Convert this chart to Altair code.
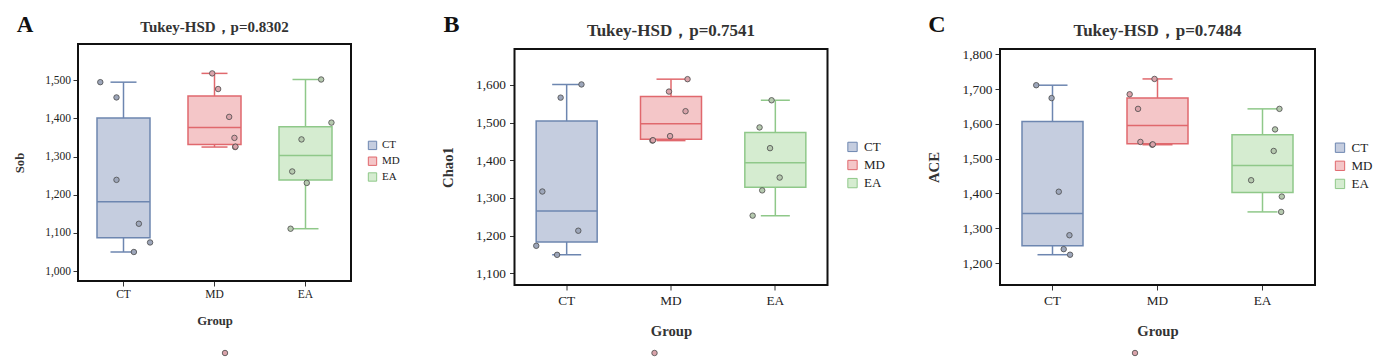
import altair as alt
import pandas as pd

groups = ["CT", "MD", "EA"]

# Panel A: Sob and horizontal jitter (fraction of band)
sob_ct = [1495, 1455, 1239, 1124, 1075, 1050]
sob_md = [1518, 1477, 1404, 1349, 1325, 1326]
sob_ea = [1502, 1389, 1345, 1261, 1231, 1111]
sob_ct_jit = [-0.255, -0.077, -0.077, 0.169, 0.292, 0.114]
sob_md_jit = [-0.025, 0.04, 0.161, 0.219, 0.227, 0.23]
sob_ea_jit = [0.172, 0.285, -0.044, -0.146, 0.014, -0.164]

# Panel B: Chao1
chao_ct = [1601, 1566, 1317, 1213, 1173, 1149]
chao_md = [1615, 1582, 1530, 1464, 1452, 1453]
chao_ea = [1559, 1487, 1432, 1354, 1320, 1253]
chao_ct_jit = [0.236, 0.007, -0.194, 0.201, -0.261, -0.032]
chao_md_jit = [0.255, 0.051, 0.233, 0.063, -0.131, -0.125]
chao_ea_jit = [0.032, -0.1, 0.015, 0.121, -0.071, -0.176]

# Panel C: ACE
ace_ct = [1711, 1674, 1405, 1280, 1240, 1224]
ace_md = [1729, 1685, 1643, 1548, 1540, 1541]
ace_ea = [1643, 1584, 1522, 1438, 1391, 1347]
ace_ct_jit = [-0.102, 0.067, 0.146, 0.263, 0.2, 0.27]
ace_md_jit = [0.044, -0.229, -0.137, -0.111, 0.019, 0.025]
ace_ea_jit = [0.263, 0.215, 0.2, -0.048, 0.289, 0.282]

sob_ticks = [1000, 1100, 1200, 1300, 1400, 1500]
chao_ticks = [1100, 1200, 1300, 1400, 1500, 1600]
ace_ticks = [1200, 1300, 1400, 1500, 1600, 1700, 1800]

titles = ["Tukey-HSD，p=0.8302", "Tukey-HSD，p=0.7541", "Tukey-HSD，p=0.7484"]
letters = ["A", "B", "C"]
ytitles = ["Sob", "Chao1", "ACE"]
xtitle = "Group"

FONT = "Liberation Serif"
TXT = "#222222"
TTL = "#333333"
FRAME = "#111111"
fills = ["#c5cddf", "#f4c6c8", "#d5ecd0"]
strokes = ["#6d86b0", "#e0686d", "#8fc889"]
ptfills = ["#9da6ba", "#d9a3aa", "#b6c9af"]


def cexpr(cols):
    return (f"datum.group === '{groups[0]}' ? '{cols[0]}' : "
            f"datum.group === '{groups[1]}' ? '{cols[1]}' : '{cols[2]}'")


def make_df(vals, jits):
    rows = []
    for g, v, j in zip(groups, vals, jits):
        for a, b in zip(v, j):
            rows.append({"group": g, "value": a, "jit": b})
    return pd.DataFrame(rows)


def panel(df, letter, title, ytitle, ticks, s):
    top = s["top"]  # plot-area top relative to the shared row origin
    h = s["h"]
    xs = alt.Scale(domain=groups, paddingInner=0, paddingOuter=0)
    ys = alt.Scale(domain=s["domain"], nice=False, zero=False, range=[h, top])
    xaxis = alt.Axis(title=xtitle, labelAngle=0, labelFont=FONT, labelFontSize=s["tick_fs"],
                     labelColor=TXT, tickColor="#333", tickSize=5, tickWidth=1, domain=False,
                     grid=False, labelPadding=s["xlab_pad"], titleFont=FONT,
                     titleFontSize=s["atitle_fs"], titleFontWeight="bold", titleColor=TTL,
                     titlePadding=s["xtitle_pad"])
    yaxis = alt.Axis(title=ytitle, values=ticks, format=",.0f", labelFont=FONT,
                     labelFontSize=s["tick_fs"], labelColor=TXT, tickColor="#333", tickSize=5,
                     tickWidth=1, domain=False, grid=False, labelPadding=s["ylab_pad"],
                     titleFont=FONT, titleFontSize=s["atitle_fs"], titleFontWeight="bold",
                     titleColor=TTL, titlePadding=s["ytitle_pad"], titleY=(h + top) / 2)
    x = alt.X("group:N", scale=xs, axis=xaxis, sort=groups)

    def Y(f):
        return alt.Y(f, scale=ys, axis=yaxis)

    leg = alt.Legend(orient="none", legendX=s["legX"], legendY=s["legY"], title=None,
                     symbolType="square", symbolSize=s["sym"], symbolStrokeWidth=1,
                     labelFont=FONT, labelFontSize=s["leg_fs"], labelColor=TXT,
                     labelOffset=s["leg_off"], rowPadding=s["leg_row"], padding=0)
    fill = alt.Fill("group:N", scale=alt.Scale(domain=groups, range=fills), legend=leg)
    stroke = alt.Stroke("group:N", scale=alt.Scale(domain=groups, range=strokes), legend=leg)

    base = alt.Chart(df)
    stats = base.transform_aggregate(
        q1="q1(value)", q3="q3(value)", med="median(value)", lo="min(value)", hi="max(value)",
        groupby=["group"]
    ).transform_calculate(sc=cexpr(strokes))

    box = stats.mark_bar(size=s["box_w"], strokeWidth=1.5, opacity=1).encode(
        x=x, y=Y("q1:Q"), y2="q3:Q", fill=fill, stroke=stroke)
    wlo = stats.mark_rule(strokeWidth=1.5).encode(x=x, y=Y("lo:Q"), y2="q1:Q", stroke=stroke)
    whi = stats.mark_rule(strokeWidth=1.5).encode(x=x, y=Y("q3:Q"), y2="hi:Q", stroke=stroke)
    clo = stats.mark_tick(size=s["cap_w"], thickness=1.5, opacity=1).encode(
        x=x, y=Y("lo:Q"), fill=alt.Fill("sc:N", scale=None))
    chi = stats.mark_tick(size=s["cap_w"], thickness=1.5, opacity=1).encode(
        x=x, y=Y("hi:Q"), fill=alt.Fill("sc:N", scale=None))
    med = stats.mark_tick(size=s["box_w"], thickness=1.5, opacity=1).encode(
        x=x, y=Y("med:Q"), fill=alt.Fill("sc:N", scale=None))
    pts = base.transform_calculate(pc=cexpr(ptfills)).mark_circle(
        size=30, opacity=1, stroke="#4a4a4a", strokeWidth=0.8).encode(
        x=x, y=Y("value:Q"),
        xOffset=alt.XOffset("jit:Q", scale=alt.Scale(domain=[-0.5, 0.5])),
        fill=alt.Fill("pc:N", scale=None))

    one = pd.DataFrame({"d": [0]})
    frame = alt.Chart(one).mark_rect(fillOpacity=0, stroke=FRAME, strokeWidth=2).encode(
        x=alt.value(0), x2=alt.value(s["w"]), y=alt.value(top), y2=alt.value(h))
    let = alt.Chart(pd.DataFrame({"t": [letter]})).mark_text(
        font=FONT, fontSize=s["letter_fs"], fontWeight="bold", color="#111",
        align="center", baseline="middle").encode(
        x=alt.value(s["letter_x"]), y=alt.value(s["letter_y"]), text="t:N")
    ttl = alt.Chart(pd.DataFrame({"t": [title]})).mark_text(
        font=FONT, fontSize=s["title_fs"], fontWeight="bold", color=TTL,
        align="center", baseline="middle").encode(
        x=alt.value(s["w"] / 2), y=alt.value(s["title_y"]), text="t:N")
    dot = alt.Chart(one).mark_circle(
        size=30, opacity=1, fill=ptfills[1], stroke="#4a4a4a", strokeWidth=0.8).encode(
        x=alt.value(s["dot_x"]), y=alt.value(s["dot_y"]))

    return alt.layer(box, wlo, whi, clo, chi, med, pts, frame, let, ttl, dot).properties(
        width=s["w"], height=h, view=alt.ViewBackground(strokeOpacity=0))


# row origin is at y=50; panel A's frame starts 6 px higher (y=44)
spec_a = dict(domain=[974, 1595], w=273, h=231, top=-6, tick_fs=11.5, atitle_fs=12.7,
              xlab_pad=2, xtitle_pad=15, ylab_pad=2.5, ytitle_pad=18, legX=289, legY=89.9,
              sym=70, leg_fs=11, leg_off=4, leg_row=2.8, box_w=53, cap_w=26, letter_fs=23,
              letter_x=-53, letter_y=-25, title_fs=15, title_y=-23, dot_x=147, dot_y=303)
spec_b = dict(domain=[1069, 1695], w=313, h=235, top=-1, tick_fs=13.3, atitle_fs=14.7,
              xlab_pad=3.5, xtitle_pad=17, ylab_pad=4, ytitle_pad=20, legX=331.5, legY=90.4,
              sym=87, leg_fs=13, leg_off=5, leg_row=3.1, box_w=61, cap_w=29, letter_fs=24,
              letter_x=-63, letter_y=-25, title_fs=17, title_y=-19, dot_x=140, dot_y=303)
spec_c = dict(domain=[1137, 1815], w=315, h=235, top=-1, tick_fs=13.3, atitle_fs=14.7,
              xlab_pad=3.5, xtitle_pad=17, ylab_pad=3, ytitle_pad=21, legX=333.5, legY=91.2,
              sym=87, leg_fs=13, leg_off=5, leg_row=3.1, box_w=61, cap_w=30, letter_fs=24,
              letter_x=-63, letter_y=-25, title_fs=17, title_y=-19, dot_x=135, dot_y=303)

pa = panel(make_df([sob_ct, sob_md, sob_ea], [sob_ct_jit, sob_md_jit, sob_ea_jit]),
           letters[0], titles[0], ytitles[0], sob_ticks, spec_a)
pb = panel(make_df([chao_ct, chao_md, chao_ea], [chao_ct_jit, chao_md_jit, chao_ea_jit]),
           letters[1], titles[1], ytitles[1], chao_ticks, spec_b)
pc = panel(make_df([ace_ct, ace_md, ace_ea], [ace_ct_jit, ace_md_jit, ace_ea_jit]),
           letters[2], titles[2], ytitles[2], ace_ticks, spec_c)

chart = alt.concat(pa, pb, pc, columns=3, spacing=40.5, align="none").resolve_scale(
    x="independent", y="independent", fill="independent", stroke="independent"
).resolve_legend(fill="independent", stroke="independent").configure_view(
    strokeOpacity=0
).properties(padding={"left": 13, "top": 13, "right": 0, "bottom": 0}, background="white")

chart.save("out.html", embed_options={"renderer": "svg", "actions": False})
